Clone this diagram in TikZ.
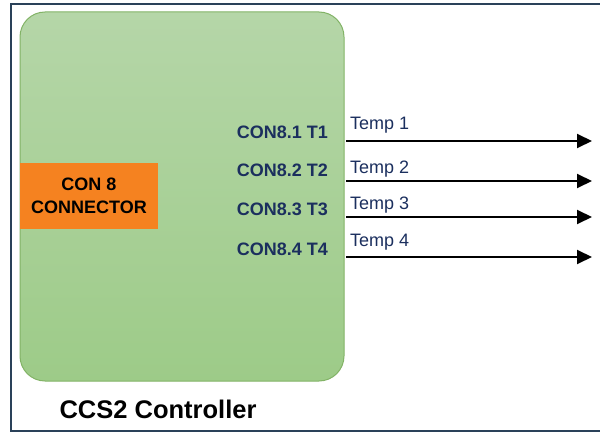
\documentclass[tikz,border=0pt]{standalone}
\usepackage{fontspec}
\setmainfont{Liberation Sans}
\usetikzlibrary{arrows.meta}
\tikzset{>={Triangle[length=15pt,width=14pt]}}

\definecolor{framecol}{HTML}{2A4159}
\definecolor{greentop}{HTML}{B5D6A8}
\definecolor{greenbot}{HTML}{9DCB88}
\definecolor{greenline}{HTML}{82B366}
\definecolor{connorange}{HTML}{F58220}
\definecolor{navytext}{HTML}{1B2F5E}

\tikzset{
	ctrlbox/.style={draw=greenline, line width=1pt, rounded corners=25pt,
		top color=greentop, bottom color=greenbot,
		minimum width=324pt, minimum height=369pt, inner sep=0pt},
	connbox/.style={fill=connorange, minimum width=138pt, minimum height=66pt,
		align=center, font=\fontsize{18}{23.5}\selectfont\bfseries},
	pinlbl/.style={anchor=base east, inner sep=0pt, text=navytext,
		font=\fontsize{18}{20}\selectfont\bfseries},
	templbl/.style={anchor=base west, inner sep=0pt, text=navytext,
		font=\fontsize{18}{20}\selectfont},
	sigline/.style={->, line width=2pt}
}

\begin{document}
\begin{tikzpicture}[x=1pt, y=-1pt]
		\useasboundingbox (0,0) rectangle (600,433);
		\pgfmathsetmacro{\xs}{346}
		\pgfmathsetmacro{\xe}{592}

		% outer frame, cut off on the right
		\draw[framecol, line width=2.2pt] (11,4) rectangle (610,431);

		\node[ctrlbox] (ccs) at (182,196.5) {};
		\node[connbox] (con8) at (89,196) {CON 8\\CONNECTOR};
		\node[anchor=base, inner sep=0pt, font=\fontsize{25.5}{30}\selectfont\bfseries]
			(title) at (158,418) {CCS2 Controller};

		% pins, signal names and outputs
		\foreach \i/\yl/\yt/\ya in {1/138.3/130/141, 2/176.7/173.3/181, 3/215/209.3/217, 4/255/246.7/257} {
			\node[pinlbl] (pin\i) at (328,\yl) {CON8.\i\ T\i};
			\coordinate (out\i) at (\xs,\ya);
			\coordinate (end\i) at (\xe,\ya);
			\node[templbl] (temp\i) at (350,\yt) {Temp \i};
			\draw[sigline] (out\i) -- (end\i);
		}

	\end{tikzpicture}
\end{document}
